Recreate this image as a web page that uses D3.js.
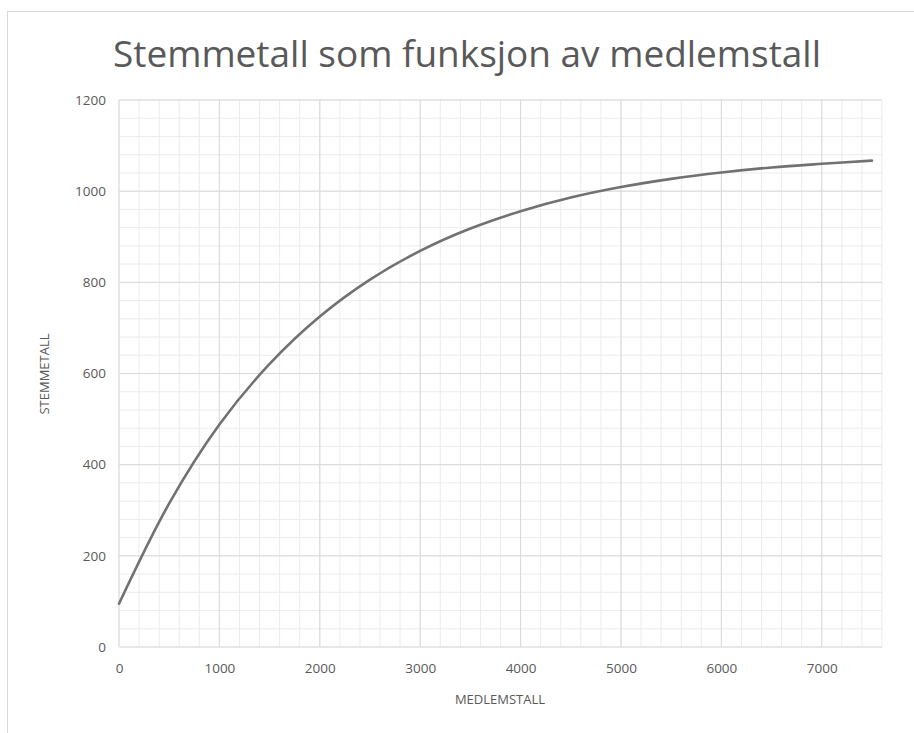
<!DOCTYPE html>
<html>
<head>
<meta charset="utf-8">
<script src="https://cdn.jsdelivr.net/npm/d3@7"></script>
<style>
  body { margin: 0; background: #fff; }
  text { font-family: "Open Sans", "Noto Sans", sans-serif; fill: #595959; }
</style>
</head>
<body>
<svg></svg>
<script>
// Stemmetall som funksjon av medlemstall

var medlemstall = [0, 500, 1000, 1500, 2000, 2500, 3000, 3500, 4000, 4500, 5000, 5500, 6000, 6500, 7000, 7500];
var stemmetall  = [95, 315, 488, 621, 725, 806, 869, 918, 956, 986, 1009, 1027, 1041, 1052, 1060, 1067];

var xTicks = [0, 1000, 2000, 3000, 4000, 5000, 6000, 7000];
var yTicks = [0, 200, 400, 600, 800, 1000, 1200];

var svgWidth = 914, svgHeight = 733;
var plotLeft = 119, plotRight = 882, plotTop = 100, plotBottom = 647;

var svg = d3.select("svg")
    .attr("width", svgWidth)
    .attr("height", svgHeight);

// chart frame
svg.append("rect")
    .attr("x", 7.5).attr("y", 11.5)
    .attr("width", 930).attr("height", 740)
    .attr("fill", "none")
    .attr("stroke", "#d9d9d9");

var xscale = d3.scaleLinear().domain([0, 7600]).range([plotLeft, plotRight]);
var yscale = d3.scaleLinear().domain([0, 1200]).range([plotBottom, plotTop]);

// minor grid
svg.append("g").selectAll("line")
    .data(d3.range(0, 7601, 200))
    .enter().append("line")
    .attr("x1", function(d) { return xscale(d); })
    .attr("x2", function(d) { return xscale(d); })
    .attr("y1", plotTop).attr("y2", plotBottom)
    .attr("stroke", "#ececec");

svg.append("g").selectAll("line")
    .data(d3.range(0, 1201, 40))
    .enter().append("line")
    .attr("y1", function(d) { return yscale(d); })
    .attr("y2", function(d) { return yscale(d); })
    .attr("x1", plotLeft).attr("x2", plotRight)
    .attr("stroke", "#ececec");

// major grid
svg.append("g").selectAll("line")
    .data(xTicks)
    .enter().append("line")
    .attr("x1", function(d) { return xscale(d); })
    .attr("x2", function(d) { return xscale(d); })
    .attr("y1", plotTop).attr("y2", plotBottom)
    .attr("stroke", "#d9d9d9");

svg.append("g").selectAll("line")
    .data(yTicks)
    .enter().append("line")
    .attr("y1", function(d) { return yscale(d); })
    .attr("y2", function(d) { return yscale(d); })
    .attr("x1", plotLeft).attr("x2", plotRight)
    .attr("stroke", "#d9d9d9");

// axes (labels only)
var xAxis = svg.append("g")
    .attr("transform", "translate(0," + plotBottom + ")")
    .call(d3.axisBottom(xscale).tickValues(xTicks).tickSize(0).tickPadding(16).tickFormat(d3.format("d")));
var yAxis = svg.append("g")
    .attr("transform", "translate(" + plotLeft + ",0)")
    .call(d3.axisLeft(yscale).tickValues(yTicks).tickSize(0).tickPadding(13).tickFormat(d3.format("d")));
[xAxis, yAxis].forEach(function(a) {
    a.select(".domain").remove();
    a.selectAll("text")
        .attr("fill", "#595959")
        .style("font-size", "13.5px")
        .style("font-family", "'Open Sans', sans-serif");
});

// curve
var line = d3.line()
    .x(function(d, i) { return xscale(medlemstall[i]); })
    .y(function(d) { return yscale(d); })
    .curve(d3.curveCatmullRom.alpha(0.5));

svg.append("path")
    .datum(stemmetall)
    .attr("d", line)
    .attr("fill", "none")
    .attr("stroke", "#717171")
    .attr("stroke-width", 2.6)
    .attr("stroke-linecap", "round");

// titles
svg.append("text")
    .attr("x", 467).attr("y", 67)
    .attr("text-anchor", "middle")
    .attr("textLength", 708)
    .attr("lengthAdjust", "spacingAndGlyphs")
    .style("font-size", "37px")
    .text("Stemmetall som funksjon av medlemstall");

svg.append("text")
    .attr("x", 500).attr("y", 704)
    .attr("text-anchor", "middle")
    .style("font-size", "13px")
    .text("MEDLEMSTALL");

svg.append("text")
    .attr("transform", "translate(49,374) rotate(-90)")
    .attr("text-anchor", "middle")
    .style("font-size", "13px")
    .text("STEMMETALL");
</script>
</body>
</html>
